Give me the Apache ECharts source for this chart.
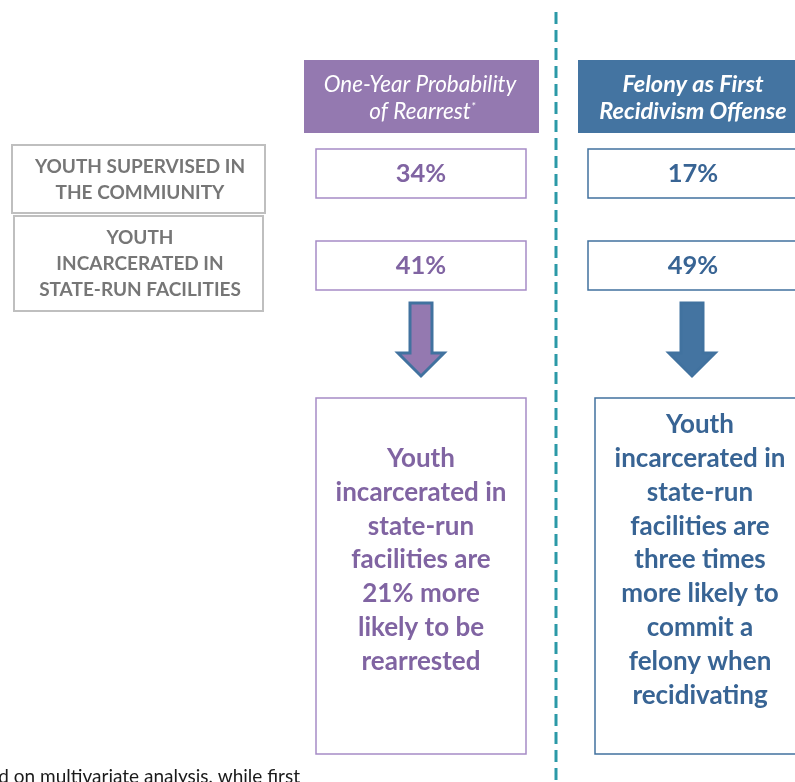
<!DOCTYPE html>
<html>
<head>
<meta charset="utf-8">
<script src="https://cdn.jsdelivr.net/npm/echarts@6/dist/echarts.min.js"></script>
<style>
  html, body { margin: 0; padding: 0; background: #fff; }
  #chart { width: 795px; height: 782px; }
</style>
</head>
<body>
<div id="chart"></div>
<script>
// measures (columns) and groups (rows)
const measures = ['One-Year Probability\nof Rearrest', 'Felony as First\nRecidivism Offense']
const groups = ['YOUTH SUPERVISED IN\nTHE COMMIUNITY', 'YOUTH\nINCARCERATED IN\nSTATE-RUN FACILITIES']
const rearrest = [34, 41]
const felony = [17, 49]
const findings = [
  'Youth\nincarcerated in\nstate-run\nfacilities are\n21% more\nlikely to be\nrearrested',
  'Youth\nincarcerated in\nstate-run\nfacilities are\nthree times\nmore likely to\ncommit a\nfelony when\nrecidivating'
]
const footnote = 'Based on multivariate analysis, while first'

const FONT = 'Lato, "Open Sans", sans-serif'
const fills = ['#9479b0', '#4474a1']
const borders = ['#a68cc6', '#41729f']
const textColors = ['#8064a2', '#386494']

const chart = echarts.init(document.getElementById('chart'), null, { renderer: 'canvas' })

// [measure index, group index, value]
const cells = []
rearrest.forEach((v, i) => cells.push([0, i, v]))
felony.forEach((v, i) => cells.push([1, i, v]))

function arrow(cx, fill, stroke) {
  return {
    type: 'polygon',
    shape: {
      points: [
        [cx - 11, 303], [cx + 11, 303], [cx + 11, 353], [cx + 23, 353],
        [cx, 376], [cx - 23, 353], [cx - 11, 353]
      ]
    },
    style: { fill: fill, stroke: stroke, lineWidth: 3, lineJoin: 'miter' }
  }
}

const option = {
  backgroundColor: '#fff',
  animation: false,
  grid: { left: 285, width: 476, top: 127.5, height: 184 },
  xAxis: { type: 'value', min: -0.5, max: 1.25, show: false, splitLine: { show: false } },
  yAxis: { type: 'category', data: groups, inverse: true, show: false },
  graphic: [
    // dashed divider
    {
      type: 'line',
      shape: { x1: 556, y1: 12, x2: 556, y2: 782 },
      style: { stroke: '#2b99a7', lineWidth: 3, lineDash: [12, 6] }
    },
    // headers
    {
      type: 'rect', shape: { x: 304, y: 60, width: 235, height: 73 },
      style: { fill: fills[0] }
    },
    {
      type: 'text',
      style: {
        text: measures[0], x: 420, y: 98, align: 'center', verticalAlign: 'middle',
        fontSize: 22.5, fontStyle: 'italic', fontFamily: FONT, fill: '#fff', lineHeight: 27
      }
    },
    {
      type: 'text',
      style: { text: '*', x: 471, y: 101, align: 'left', verticalAlign: 'top', fontSize: 12, fontStyle: 'italic', fontFamily: FONT, fill: '#fff' }
    },
    {
      type: 'rect', shape: { x: 578, y: 60, width: 232, height: 73 },
      style: { fill: fills[1] }
    },
    {
      type: 'text',
      style: {
        text: measures[1], x: 693, y: 98, align: 'center', verticalAlign: 'middle',
        fontSize: 23.5, fontStyle: 'italic', fontWeight: 'bold', fontFamily: FONT, fill: '#fff', lineHeight: 27
      }
    },
    // row labels
    {
      type: 'rect', shape: { x: 12, y: 145, width: 253, height: 68 },
      style: { fill: '#fff', stroke: '#bfbfbf', lineWidth: 2 }
    },
    {
      type: 'text',
      style: {
        text: groups[0], x: 140, y: 180, align: 'center', verticalAlign: 'middle',
        fontSize: 19, fontWeight: 'bold', fontFamily: FONT, fill: '#767676', lineHeight: 26
      }
    },
    {
      type: 'rect', shape: { x: 14, y: 216, width: 249, height: 95 },
      style: { fill: '#fff', stroke: '#bfbfbf', lineWidth: 2 }
    },
    {
      type: 'text',
      style: {
        text: groups[1], x: 140, y: 264, align: 'center', verticalAlign: 'middle',
        fontSize: 19, fontWeight: 'bold', fontFamily: FONT, fill: '#767676', lineHeight: 26
      }
    },
    // arrows
    arrow(421, fills[0], '#41729f'),
    arrow(692, fills[1], '#41729f'),
    // finding boxes
    {
      type: 'rect', shape: { x: 316, y: 398, width: 210, height: 356 },
      style: { fill: '#fff', stroke: borders[0], lineWidth: 1.5 }
    },
    {
      type: 'text',
      style: {
        text: findings[0], x: 421, y: 560, align: 'center', verticalAlign: 'middle',
        fontSize: 26, fontWeight: 'bold', fontFamily: FONT, fill: textColors[0], lineHeight: 33.8
      }
    },
    {
      type: 'rect', shape: { x: 595, y: 398, width: 212, height: 356 },
      style: { fill: '#fff', stroke: borders[1], lineWidth: 1.5 }
    },
    {
      type: 'text',
      style: {
        text: findings[1], x: 700, y: 560, align: 'center', verticalAlign: 'middle',
        fontSize: 26, fontWeight: 'bold', fontFamily: FONT, fill: textColors[1], lineHeight: 33.8
      }
    },
    // footnote (cut off at the left edge)
    {
      type: 'text',
      style: {
        text: footnote, x: 300, y: 786, align: 'right', verticalAlign: 'bottom',
        fontSize: 19, fontFamily: FONT, fill: '#1a1a1a'
      }
    }
  ],
  series: [
    {
      type: 'custom',
      data: cells,
      renderItem: function (params, api) {
        const m = api.value(0)
        const c = api.coord([m, api.value(1)])
        return {
          type: 'group',
          children: [
            {
              type: 'rect',
              shape: { x: c[0] - 105, y: c[1] - 24.5, width: 210, height: 49 },
              style: { fill: '#fff', stroke: borders[m], lineWidth: 1.5 }
            },
            {
              type: 'text',
              style: {
                text: api.value(2) + '%', x: c[0], y: c[1], align: 'center', verticalAlign: 'middle',
                fontSize: 25.5, fontWeight: 'bold', fontFamily: FONT, fill: textColors[m]
              }
            }
          ]
        }
      }
    }
  ]
}

chart.setOption(option)
</script>
</body>
</html>
